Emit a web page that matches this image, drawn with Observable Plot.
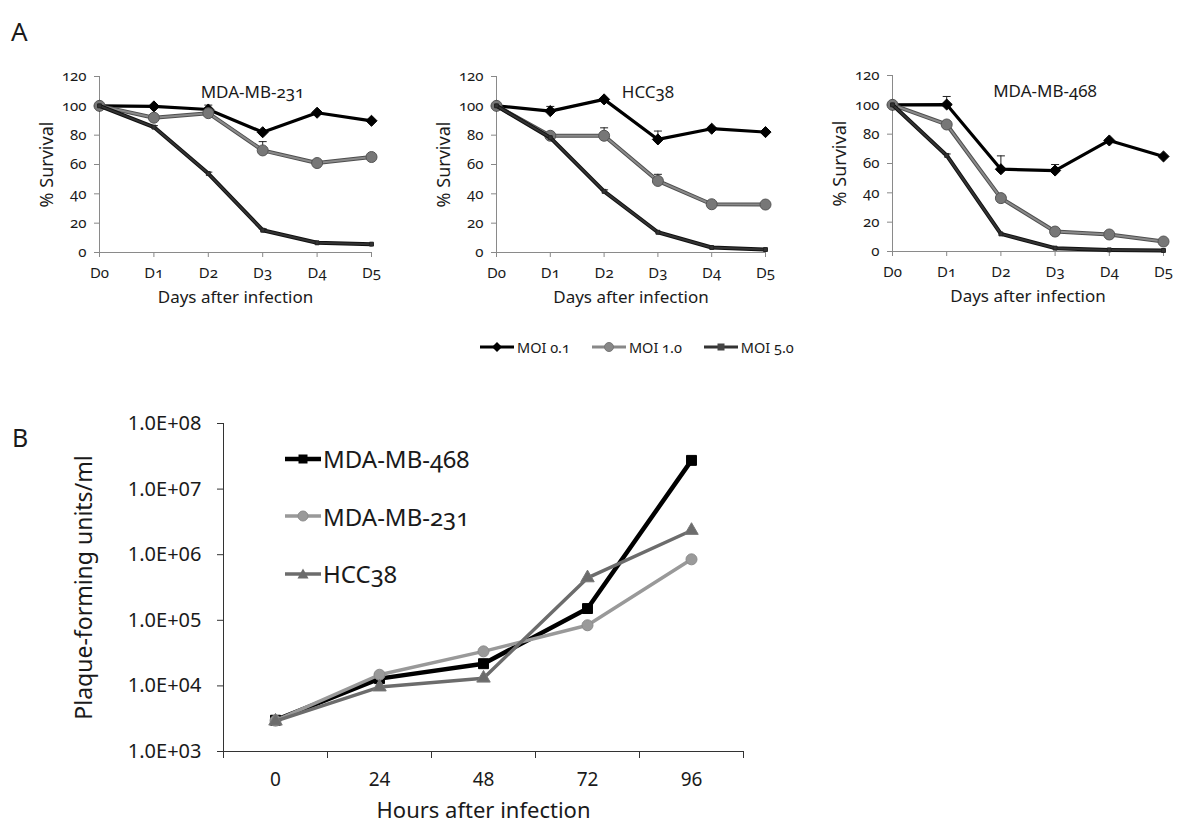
<!DOCTYPE html>
<html><head><meta charset="utf-8">
<script src="https://cdn.jsdelivr.net/npm/d3@7"></script>
<script src="https://cdn.jsdelivr.net/npm/@observablehq/plot@0.6"></script>
<style>
body{margin:0;background:#fff;}
#fig{position:relative;width:1200px;height:839px;overflow:hidden;font-family:"Noto Sans",sans-serif;color:#1a1a1a;background:#fff;}
.abs{position:absolute;}
.onum{font-variant-numeric:oldstyle-nums;}
.legA{display:flex;align-items:center;font-size:14.5px;white-space:nowrap;}
.legA svg{margin-right:3px;}
.legB{display:flex;align-items:center;font-size:24px;white-space:nowrap;height:57.5px;}
.legB svg{margin-right:2px;}
</style></head><body><div id="fig"></div>
<script>
// ---------- Panel A data ----------
const days = [0, 1, 2, 3, 4, 5];
const dayLabels = ["D0", "D1", "D2", "D3", "D4", "D5"];
const cellLines = ["MDA-MB-231", "HCC38", "MDA-MB-468"];
const mois = ["MOI 0.1", "MOI 1.0", "MOI 5.0"];

const surv231_moi01 = [100, 99.6, 97.5, 82, 95.3, 89.8];
const surv231_moi10 = [100, 91.9, 95, 69.6, 61, 65.1];
const surv231_moi50 = [100, 85.5, 53.8, 15.2, 6.6, 5.7];
const err231_moi01 = [0, 0, 3, 0, 0, 0];
const err231_moi10 = [0, 0, 0, 6, 0, 0];
const err231_moi50 = [0, 1, 1, 1, 0, 0];

const survHCC38_moi01 = [100, 96.4, 104.4, 77.1, 84.4, 82.1];
const survHCC38_moi10 = [100, 79.6, 79.6, 48.8, 32.9, 32.7];
const survHCC38_moi50 = [100, 78.3, 41.7, 13.8, 3.4, 2.0];
const errHCC38_moi01 = [0, 3.2, 0, 5.7, 0, 0];
const errHCC38_moi10 = [0, 0, 5.4, 4.5, 0, 0];
const errHCC38_moi50 = [0, 0, 1, 0, 0, 0];

const surv468_moi01 = [100, 100.2, 56.1, 55.2, 75.7, 64.8];
const surv468_moi10 = [100, 86.6, 36.4, 13.6, 11.6, 6.8];
const surv468_moi50 = [100, 65.5, 12, 2.3, 1.1, 0.7];
const err468_moi01 = [0, 5.5, 9.1, 4.1, 0, 0];
const err468_moi10 = [0, 0, 0, 0, 0, 0];
const err468_moi50 = [0, 1, 0, 0, 0, 0];

// ---------- Panel B data ----------
const hours = [0, 24, 48, 72, 96];
const hourBoundaries = [-12, 12, 36, 60, 84, 108];
const pfuSeries = ["MDA-MB-468", "MDA-MB-231", "HCC38"];
const pfu468 = [3000, 12900, 21800, 151000, 27400000];
const pfu231 = [2950, 14800, 33600, 84000, 850000];
const pfuHCC38 = [2900, 9600, 13100, 443000, 2340000];
const pfuTicks = [1e3, 1e4, 1e5, 1e6, 1e7, 1e8];

// ---------- build tables ----------
const survSource = {
  "MDA-MB-231": [[surv231_moi01, err231_moi01], [surv231_moi10, err231_moi10], [surv231_moi50, err231_moi50]],
  "HCC38": [[survHCC38_moi01, errHCC38_moi01], [survHCC38_moi10, errHCC38_moi10], [survHCC38_moi50, errHCC38_moi50]],
  "MDA-MB-468": [[surv468_moi01, err468_moi01], [surv468_moi10, err468_moi10], [surv468_moi50, err468_moi50]]
};
const survTable = [];
for (const cell of cellLines) {
  survSource[cell].forEach(([vals, errs], i) => {
    days.forEach((d, j) => survTable.push({cell, moi: mois[i], day: d, value: vals[j], err: errs[j]}));
  });
}
const pfuTable = [];
[pfu468, pfu231, pfuHCC38].forEach((vals, i) => hours.forEach((h, j) => pfuTable.push({series: pfuSeries[i], hour: h, value: vals[j]})));

const fig = document.getElementById("fig");
const FONT = '"Noto Sans", sans-serif';

// custom cap symbol for error bars
const capSymbol = {draw(ctx, size) { const h = Math.sqrt(size / Math.PI); ctx.moveTo(-h, 0); ctx.lineTo(h, 0); }};

const moiStyle = {
  "MOI 0.1": {stroke: "#000", width: 3.2, symbol: "diamond2", r: 5, fill: "#000", dotStroke: "#000", inner: null},
  "MOI 1.0": {stroke: "#4f4f4f", width: 4, symbol: "circle", r: 5.5, fill: "#777", dotStroke: "#555", inner: "#8a8a8a"},
  "MOI 5.0": {stroke: "#111", width: 4, symbol: "square", r: 2.2, fill: "#333", dotStroke: "#222", inner: "#333"}
};

function survivalPlot(cell, cfg) {
  const rows = survTable.filter(d => d.cell === cell);
  const marks = [
    Plot.axisY({ticks: [0, 20, 40, 60, 80, 100, 120], tickSize: 5, tickPadding: 8, fontSize: 15, fontVariant: "oldstyle-nums", label: null, stroke: "#888"}),
    Plot.axisX({ticks: days, tickFormat: d => dayLabels[d], tickSize: 5, tickPadding: 10, fontSize: 15, fontVariant: "oldstyle-nums", label: null, stroke: "#888"}),
    Plot.ruleX([0], {stroke: "#8a8a8a"}),
    Plot.ruleY([0], {stroke: "#8a8a8a"})
  ];
  for (const moi of mois) {
    const s = moiStyle[moi];
    const r = rows.filter(d => d.moi === moi);
    const e = r.filter(d => d.err > 0);
    marks.push(Plot.ruleX(e, {x: "day", y1: "value", y2: d => d.value + d.err, stroke: "#222", strokeWidth: 1}));
    marks.push(Plot.dot(e, {x: "day", y: d => d.value + d.err, symbol: capSymbol, r: 4, stroke: "#222", strokeWidth: 1, fill: "none"}));
    marks.push(Plot.line(r, {x: "day", y: "value", stroke: s.stroke, strokeWidth: s.width}));
    if (s.inner) marks.push(Plot.line(r, {x: "day", y: "value", stroke: s.inner, strokeWidth: s.width - 2}));
    marks.push(Plot.dot(r, {x: "day", y: "value", symbol: s.symbol, r: s.r, fill: s.fill, stroke: s.dotStroke, strokeWidth: 1}));
  }
  marks.push(Plot.text([cell], {frameAnchor: "top", textAnchor: "middle", text: d => d, dx: 17, dy: 9, fontSize: 17, fontVariant: "oldstyle-nums"}));
  marks.push(Plot.text(["% Survival"], {frameAnchor: "left", textAnchor: "middle", text: d => d, rotate: -90, dx: -52, fontSize: 18}));
  marks.push(Plot.text(["Days after infection"], {frameAnchor: "bottom", textAnchor: "middle", text: d => d, dy: 50, fontSize: 17}));
  const p = Plot.plot({
    width: cfg.width, height: 250,
    marginLeft: cfg.ml, marginRight: cfg.mr, marginTop: cfg.mt, marginBottom: cfg.mb,
    style: {fontFamily: FONT, fontVariantNumeric: "oldstyle-nums", color: "#1a1a1a", background: "transparent", overflow: "visible"},
    x: {type: "linear", domain: [0, 5]},
    y: {domain: [0, 120]},
    marks
  });
  p.classList.add("abs");
  p.style.left = cfg.left + "px";
  p.style.top = cfg.top + "px";
  fig.appendChild(p);
}

survivalPlot("MDA-MB-231", {left: 0, top: 60, width: 400, ml: 99, mr: 29, mt: 16, mb: 58});
survivalPlot("HCC38", {left: 400, top: 60, width: 400, ml: 96, mr: 35, mt: 16, mb: 58});
survivalPlot("MDA-MB-468", {left: 796, top: 60, width: 404, ml: 96, mr: 37, mt: 15, mb: 59});

// panel labels
function addText(txt, left, top, size, cls) {
  const d = document.createElement("div");
  d.className = "abs " + (cls || "");
  d.style.left = left + "px"; d.style.top = top + "px"; d.style.fontSize = size + "px";
  d.textContent = txt;
  fig.appendChild(d);
  return d;
}
addText("A", 11, 13, 26);
addText("B", 12, 420, 25);

// legend icons
function iconSVG(w, h, lineColor, lineW, inner, marker) {
  const y = h / 2, cx = w / 2;
  let m = "";
  if (marker.type === "diamond") m = `<polygon points="${cx},${y - 5} ${cx + 5},${y} ${cx},${y + 5} ${cx - 5},${y}" fill="${marker.fill}"/>`;
  if (marker.type === "circle") m = `<circle cx="${cx}" cy="${y}" r="${marker.r}" fill="${marker.fill}" stroke="${marker.stroke || marker.fill}"/>`;
  if (marker.type === "square") m = `<rect x="${cx - marker.r}" y="${y - marker.r}" width="${2 * marker.r}" height="${2 * marker.r}" fill="${marker.fill}"/>`;
  if (marker.type === "triangle") m = `<polygon points="${cx},${y - marker.r} ${cx + marker.r},${y + marker.r * 0.8} ${cx - marker.r},${y + marker.r * 0.8}" fill="${marker.fill}"/>`;
  const innerLine = inner ? `<line x1="0" x2="${w}" y1="${y}" y2="${y}" stroke="${inner}" stroke-width="${lineW - 2}"/>` : "";
  return `<svg width="${w}" height="${h}"><line x1="0" x2="${w}" y1="${y}" y2="${y}" stroke="${lineColor}" stroke-width="${lineW}"/>${innerLine}${m}</svg>`;
}
// legend A
const legA = document.createElement("div");
legA.className = "abs legA onum";
legA.style.left = "480px"; legA.style.top = "337px";
const legAMarkers = [{type: "diamond", fill: "#000"}, {type: "circle", r: 4.5, fill: "#888", stroke: "#777"}, {type: "square", r: 3.5, fill: "#444"}];
const legALines = [["#000", 3, null], ["#888", 3, null], ["#333", 3, null]];
legA.innerHTML = mois.map((m, i) => `<span style="display:flex;align-items:center;margin-right:${i < 2 ? 22 : 0}px">${iconSVG(34, 16, legALines[i][0], legALines[i][1], legALines[i][2], legAMarkers[i])}${m}</span>`).join("");
fig.appendChild(legA);

// ---------- Panel B ----------
const pfuStyle = {
  "MDA-MB-468": {stroke: "#000", width: 4.5, symbol: "square", r: 5.6, fill: "#000", dotStroke: "#000"},
  "MDA-MB-231": {stroke: "#999", width: 3.5, symbol: "circle", r: 5.5, fill: "#9a9a9a", dotStroke: "#8c8c8c"},
  "HCC38": {stroke: "#6c6c6c", width: 3.5, symbol: "triangle", r: 5, fill: "#6c6c6c", dotStroke: "#777"}
};
const sciFormat = d => { const e = Math.round(Math.log10(d)); return (d / 10 ** e).toFixed(1) + "E+" + String(e).padStart(2, "0"); };
const marksB = [
  Plot.axisY({ticks: pfuTicks, tickFormat: sciFormat, tickSize: 6, tickPadding: 16, fontSize: 20, label: null, stroke: "#333"}),
  Plot.axisX({ticks: hourBoundaries, tickFormat: () => "", tickSize: 7, label: null, stroke: "#333"}),
  Plot.axisX({ticks: hours, tickSize: 0, tickPadding: 21, fontSize: 19, label: null}),
  Plot.ruleX([hourBoundaries[0]], {stroke: "#333"}),
  Plot.ruleY([pfuTicks[0]], {stroke: "#333"})
];
for (const s of pfuSeries) {
  const st = pfuStyle[s];
  const r = pfuTable.filter(d => d.series === s);
  marksB.push(Plot.line(r, {x: "hour", y: "value", stroke: st.stroke, strokeWidth: st.width}));
  marksB.push(Plot.dot(r, {x: "hour", y: "value", symbol: st.symbol, r: st.r, fill: st.fill, stroke: st.dotStroke, strokeWidth: 1}));
}
marksB.push(Plot.text(["Plaque-forming units/ml"], {frameAnchor: "left", textAnchor: "middle", text: d => d, rotate: -90, dx: -139, fontSize: 23}));
marksB.push(Plot.text(["Hours after infection"], {frameAnchor: "bottom", textAnchor: "middle", text: d => d, dy: 66, fontSize: 22}));
const pB = Plot.plot({
  width: 800, height: 439,
  marginLeft: 223, marginRight: 57, marginTop: 23, marginBottom: 88,
  style: {fontFamily: FONT, color: "#1a1a1a", background: "transparent", overflow: "visible"},
  x: {type: "linear", domain: [hourBoundaries[0], hourBoundaries[hourBoundaries.length - 1]]},
  y: {type: "log", domain: [pfuTicks[0], pfuTicks[pfuTicks.length - 1]]},
  marks: marksB
});
pB.classList.add("abs");
pB.style.left = "0px"; pB.style.top = "400px";
fig.appendChild(pB);

// legend B
const legB = document.createElement("div");
legB.className = "abs onum";
legB.style.left = "285px"; legB.style.top = "430px";
const legBMarkers = [{type: "square", r: 4.5, fill: "#000"}, {type: "circle", r: 5, fill: "#9a9a9a", stroke: "#8c8c8c"}, {type: "triangle", r: 5.5, fill: "#6c6c6c"}];
legB.innerHTML = pfuSeries.map((s, i) => `<div class="legB">${iconSVG(36, 16, pfuStyle[s].stroke, pfuStyle[s].width, null, legBMarkers[i])}${s}</div>`).join("");
fig.appendChild(legB);
</script></body></html>
